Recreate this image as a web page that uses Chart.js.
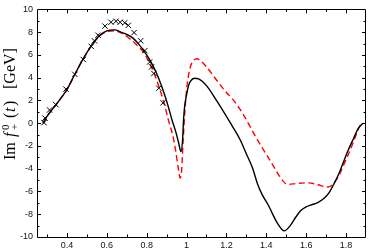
<!DOCTYPE html>
<html>
<head>
<meta charset="utf-8">
<script src="https://cdn.jsdelivr.net/npm/chart.js@4.4.1/dist/chart.umd.min.js"></script>
<style>
html,body{margin:0;padding:0;background:#fff;}
#c{display:block;}
</style>
</head>
<body>
<canvas id="c" width="371" height="250"></canvas>
<script>
// ---- data ----
const blackX = [0.28,0.30,0.34,0.37,0.40,0.44,0.48,0.52,0.56,0.60,0.64,0.67,0.70,0.73,0.76,0.80,0.83,0.86,0.89,0.91,0.93,0.945,0.96,0.972,0.98,0.985,0.99,1.00,1.01,1.02,1.04,1.06,1.10,1.15,1.20,1.233,1.27,1.30,1.33,1.357,1.38,1.407,1.457,1.49,1.52,1.55,1.573,1.60,1.622,1.66,1.69,1.715,1.738,1.765,1.788,1.81,1.837,1.86,1.884];
const blackY = [0,0.6,1.5,2.2,2.95,4.3,5.6,6.75,7.65,8.12,8.2,8.0,7.8,7.5,6.95,6.0,5.1,3.95,2.5,1.36,0.1,-0.7,-1.7,-2.5,-1.5,0.3,1.4,2.5,3.3,3.7,3.95,3.9,3.3,2.0,0.6,-0.36,-1.5,-2.7,-3.9,-5.38,-6.3,-7.1,-8.82,-9.46,-9.0,-8.2,-7.68,-7.35,-7.2,-6.95,-6.6,-6.1,-5.38,-4.4,-3.37,-2.4,-1.37,-0.5,0];
const redX = [0.28,0.30,0.34,0.37,0.40,0.44,0.48,0.52,0.56,0.60,0.64,0.68,0.72,0.76,0.795,0.83,0.861,0.89,0.91,0.93,0.945,0.958,0.968,0.975,0.983,0.993,1.00,1.01,1.02,1.035,1.051,1.07,1.10,1.15,1.20,1.233,1.28,1.316,1.35,1.382,1.432,1.457,1.49,1.506,1.55,1.606,1.655,1.705,1.73,1.746,1.77,1.788,1.81,1.837,1.87,1.89];
const redY = [0,0.6,1.5,2.2,2.95,4.3,5.6,6.72,7.6,8.05,8.12,7.85,7.35,6.7,5.95,4.7,3.24,1.6,0.2,-1.0,-2.37,-3.9,-4.81,-4.2,-1.5,1.36,2.9,4.2,5.0,5.5,5.66,5.5,4.95,3.8,2.7,2.07,0.9,-0.22,-1.3,-2.23,-3.66,-4.4,-5.2,-5.38,-5.3,-5.24,-5.38,-5.61,-5.45,-5.1,-4.4,-3.66,-2.8,-1.65,-0.22,0];
const dataX = [0.285,0.29,0.313,0.344,0.395,0.44,0.482,0.522,0.538,0.556,0.591,0.621,0.646,0.667,0.69,0.708,0.737,0.77,0.791,0.815,0.825,0.836,0.861,0.882];
const dataY = [0.05,0.45,1.16,1.64,3.0,4.29,5.6,6.75,7.24,7.73,8.53,8.87,8.96,8.87,8.82,8.6,7.96,7.24,6.38,5.38,4.95,4.37,3.08,1.79];
const xTicks = [0.4,0.6,0.8,1.0,1.2,1.4,1.6,1.8];
const xTickLabels = ['0.4','0.6','0.8','1','1.2','1.4','1.6','1.8'];
const yTicks = [-10,-8,-6,-4,-2,0,2,4,6,8,10];
const yTickLabels = ['-10','-8','-6','-4','-2','0','2','4','6','8','10'];

const pts = (xs, ys) => xs.map((x, i) => ({x: x, y: ys[i]}));

const framePlugin = {
  id: 'frame',
  afterDraw(chart) {
    const ctx = chart.ctx, a = chart.chartArea;
    const xs = chart.scales.x, ys = chart.scales.y;
    ctx.save();
    ctx.strokeStyle = '#000';
    ctx.lineWidth = 1;
    ctx.beginPath();
    ctx.rect(Math.round(a.left) + 0.5, Math.round(a.top) + 0.5, Math.round(a.right - a.left) - 1, Math.round(a.bottom - a.top));
    ctx.stroke();
    ctx.beginPath();
    for (let v = 0.3; v < 1.9; v += 0.1) {
      const vv = Math.round(v * 10) / 10;
      const major = xTicks.some(t => Math.abs(t - vv) < 1e-6);
      const L = major ? 4 : 2.5;
      const px = Math.round(xs.getPixelForValue(vv)) + 0.5;
      ctx.moveTo(px, a.bottom); ctx.lineTo(px, a.bottom - L);
      ctx.moveTo(px, a.top); ctx.lineTo(px, a.top + L);
    }
    for (let v = -9; v <= 9; v++) {
      const major = yTicks.indexOf(v) >= 0;
      const L = major ? 4 : 2.5;
      const py = Math.round(ys.getPixelForValue(v)) + 0.5;
      ctx.moveTo(a.left, py); ctx.lineTo(a.left + L, py);
      ctx.moveTo(a.right, py); ctx.lineTo(a.right - L, py);
    }
    ctx.stroke();
    // y axis title
    ctx.fillStyle = '#000';
    ctx.translate(15, 0);
    ctx.rotate(-Math.PI / 2);
    ctx.textBaseline = 'alphabetic';
    ctx.textAlign = 'left';
    const R = '16px "Liberation Serif"', I = 'italic 16px "Liberation Serif"', S = '11px "Liberation Serif"';
    ctx.font = R; ctx.fillText('Im', -160, 0);
    ctx.font = I; ctx.fillText('f', -137, 0);
    ctx.font = S; ctx.fillText('0', -130, -6); ctx.fillText('+', -130, 3);
    ctx.font = R; ctx.fillText('(', -118, 0);
    ctx.font = I; ctx.fillText('t', -112, 0);
    ctx.font = R; ctx.fillText(')', -106, 0);
    ctx.font = R; ctx.fillText('[GeV]', -89, 0);
    ctx.restore();
  }
};

new Chart(document.getElementById('c'), {
  type: 'scatter',
  data: {
    datasets: [
      {
        type: 'line', data: pts(redX, redY), borderColor: '#ff0000', borderWidth: 1.4,
        borderDash: [6, 3.5], pointRadius: 0, cubicInterpolationMode: 'monotone', fill: false, order: 2
      },
      {
        type: 'line', data: pts(blackX, blackY), borderColor: '#000', borderWidth: 1.4,
        pointRadius: 0, cubicInterpolationMode: 'monotone', fill: false, order: 1
      },
      {
        data: pts(dataX, dataY), pointStyle: 'crossRot', pointRadius: 3.8, borderColor: '#000',
        backgroundColor: '#000', pointBorderWidth: 1, borderWidth: 1, order: 0
      }
    ]
  },
  options: {
    responsive: false,
    animation: false,
    devicePixelRatio: 1,
    layout: {padding: {top: 4, right: 2, left: 0, bottom: 0}},
    plugins: {legend: {display: false}, tooltip: {enabled: false}},
    scales: {
      x: {
        type: 'linear', min: 0.25, max: 1.9,
        grid: {display: false, drawTicks: false, tickLength: 0}, border: {display: false},
        afterBuildTicks: s => { s.ticks = xTicks.map(v => ({value: v})); },
        afterFit: s => { s.height = 13; },
        ticks: {
          padding: 3, color: '#111', font: {family: '"Liberation Sans"', size: 9},
          maxRotation: 0, autoSkip: false,
          callback: (v) => { const i = xTicks.findIndex(t => Math.abs(t - v) < 1e-6); return i >= 0 ? xTickLabels[i] : ''; }
        }
      },
      y: {
        type: 'linear', min: -10, max: 10,
        grid: {display: false, drawTicks: false, tickLength: 0}, border: {display: false},
        afterBuildTicks: s => { s.ticks = yTicks.map(v => ({value: v})); },
        afterFit: s => { s.width = 37; },
        ticks: {
          padding: 4, color: '#111', font: {family: '"Liberation Sans"', size: 9},
          autoSkip: false,
          callback: (v) => { const i = yTicks.indexOf(v); return i >= 0 ? yTickLabels[i] : ''; }
        }
      }
    }
  },
  plugins: [framePlugin]
});
</script>
</body>
</html>
